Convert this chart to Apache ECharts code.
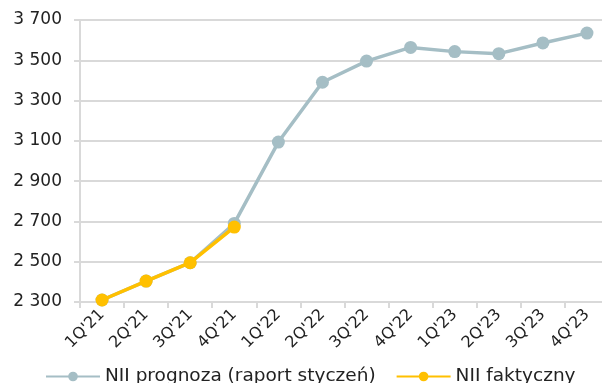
<!DOCTYPE html>
<html><head><meta charset="utf-8">
<script src="https://cdn.jsdelivr.net/npm/echarts@6/dist/echarts.min.js"></script>
<style>html,body{margin:0;padding:0;background:#fff}#c{width:602px;height:383px}</style>
</head><body><div id="c"></div>
<script>
const categories = ["1Q'21","2Q'21","3Q'21","4Q'21","1Q'22","2Q'22","3Q'22","4Q'22","1Q'23","2Q'23","3Q'23","4Q'23"];
const forecast = [2310, 2404, 2495, 2690, 3094, 3391, 3496, 3564, 3543, 3533, 3586, 3635];
const actual = [2310, 2404, 2495, 2672, null, null, null, null, null, null, null, null];
const yTicks = {min: 2300, max: 3700, interval: 200};
const FONT = "DejaVu Sans";
const chart = echarts.init(document.getElementById('c'));
chart.setOption({
  animation: false,
  textStyle: {fontFamily: FONT},
  grid: {left: 80, right: -7, top: 20, bottom: 81, containLabel: false, outerBoundsMode: 'none'},
  legend: {
    bottom: -8, left: 40, itemWidth: 54, itemHeight: 12, itemGap: 20,
    textStyle: {fontSize: 18.5, color: '#222', fontFamily: FONT},
    data: ['NII prognoza (raport styczeń)', 'NII faktyczny']
  },
  xAxis: {
    type: 'category', data: categories, boundaryGap: true,
    axisLine: {lineStyle: {color: '#d9d9d9', width: 2}},
    axisTick: {show: true, length: 6, lineStyle: {color: '#d9d9d9', width: 2}},
    axisLabel: {rotate: 45, fontSize: 16, color: '#222', margin: 10, fontFamily: FONT}
  },
  yAxis: {
    type: 'value', min: yTicks.min, max: yTicks.max, interval: yTicks.interval,
    axisLine: {show: true, lineStyle: {color: '#d9d9d9', width: 2}},
    axisTick: {show: true, length: 6, lineStyle: {color: '#d9d9d9', width: 2}},
    splitLine: {lineStyle: {color: '#d9d9d9', width: 2}},
    axisLabel: {fontSize: 17, color: '#222', margin: 18, fontFamily: FONT,
      formatter: v => String(v).replace(/\B(?=(\d{3})+(?!\d))/g, ' ')}
  },
  series: [
    {name: 'NII prognoza (raport styczeń)', type: 'line', data: forecast,
     symbol: 'circle', symbolSize: 13, lineStyle: {color: '#A5BEC5', width: 3.5},
     itemStyle: {color: '#A5BEC5'}, z: 2},
    {name: 'NII faktyczny', type: 'line', data: actual,
     symbol: 'circle', symbolSize: 13, lineStyle: {color: '#FFC000', width: 3.5},
     itemStyle: {color: '#FFC000'}, z: 3}
  ]
});
</script></body></html>
